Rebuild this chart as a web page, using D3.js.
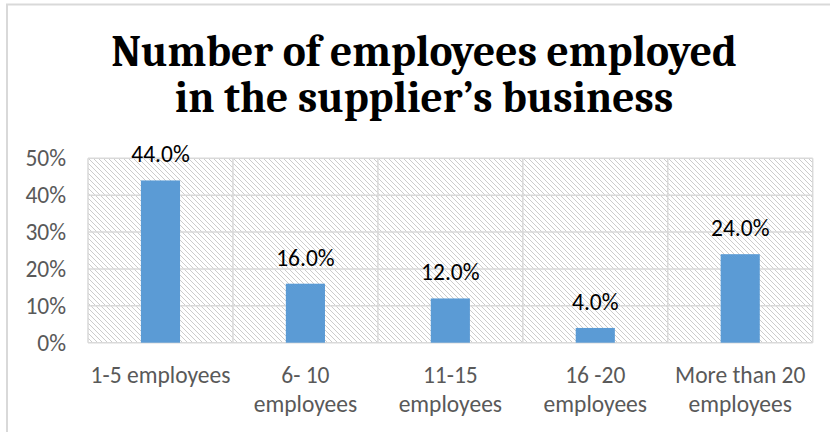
<!DOCTYPE html>
<html>
<head>
<meta charset="utf-8">
<script src="https://cdn.jsdelivr.net/npm/d3@7"></script>
<style>
  body { margin: 0; background: #fff; }
  svg { display: block; }
</style>
</head>
<body>
<svg id="chart" width="830" height="432"></svg>
<script>
// ---- data ----
const titleLines = ["Number of employees employed", "in the supplier\u2019s business"];
const categories = ["1-5 employees", "6- 10 employees", "11-15 employees", "16 -20 employees", "More than 20 employees"];
const values = [0.44, 0.16, 0.12, 0.04, 0.24];
const yTicks = [0, 0.1, 0.2, 0.3, 0.4, 0.5];

// ---- layout ----
const W = 830, H = 432;
const plot = { left: 88, right: 812.7, top: 158.3, bottom: 342.7 };
const bodyFont = "Carlito, Calibri, 'Liberation Sans', sans-serif";
const bodySize = 23.5;
const titleFont = "Caladea, Cambria, 'Liberation Serif', serif";
const gridColor = "#d9d9d9";

const svg = d3.select("#chart");

svg.append("rect").attr("width", W).attr("height", H).attr("fill", "#fff");

// chart frame (top and left edges visible)
svg.append("path")
  .attr("d", `M7,${H} V4.5 H${W}`)
  .attr("fill", "none")
  .attr("stroke", gridColor)
  .attr("stroke-width", 2);

// ---- scales ----
const x = d3.scaleBand()
  .domain(categories)
  .range([plot.left, plot.right])
  .paddingInner(0.73)
  .paddingOuter(0.365);

const y = d3.scaleLinear().domain([0, 0.5]).range([plot.bottom, plot.top]);

// ---- hatched plot background ----
const defs = svg.append("defs");
const pat = defs.append("pattern")
  .attr("id", "hatch")
  .attr("patternUnits", "userSpaceOnUse")
  .attr("width", 5).attr("height", 5);
pat.append("rect").attr("width", 5).attr("height", 5).attr("fill", "#fff");
pat.append("path")
  .attr("d", "M-1,-1 L6,6 M-1,4 L1,6 M4,-1 L6,1")
  .attr("stroke", "#cccccc")
  .attr("stroke-width", 1);

svg.append("rect")
  .attr("x", plot.left).attr("y", plot.top)
  .attr("width", plot.right - plot.left)
  .attr("height", plot.bottom - plot.top)
  .attr("fill", "url(#hatch)");

// ---- gridlines ----
const grid = svg.append("g").attr("stroke", gridColor).attr("stroke-width", 1.5);
grid.selectAll("line.h").data(yTicks).join("line")
  .attr("class", "h")
  .attr("x1", plot.left).attr("x2", plot.right)
  .attr("y1", d => y(d)).attr("y2", d => y(d));

const step = x.step();
const bounds = d3.range(categories.length + 1).map(i => plot.left + i * step);
grid.selectAll("line.v").data(bounds).join("line")
  .attr("class", "v")
  .attr("x1", d => d).attr("x2", d => d)
  .attr("y1", plot.top).attr("y2", plot.bottom);

// ---- bars ----
svg.append("g").selectAll("rect").data(values).join("rect")
  .attr("x", (d, i) => x(categories[i]))
  .attr("width", x.bandwidth())
  .attr("y", d => y(d))
  .attr("height", d => y(0) - y(d))
  .attr("fill", "#5b9bd5");

// ---- data labels ----
svg.append("g").selectAll("text").data(values).join("text")
  .attr("x", (d, i) => x(categories[i]) + x.bandwidth() / 2)
  .attr("y", d => y(d) - 18)
  .attr("text-anchor", "middle")
  .attr("font-family", bodyFont)
  .attr("font-size", bodySize)
  .attr("fill", "#000")
  .text(d => d3.format(".1%")(d));

// ---- y axis ----
const yAxis = svg.append("g")
  .attr("transform", `translate(${plot.left},0)`)
  .call(d3.axisLeft(y).tickValues(yTicks).tickFormat(d3.format(".0%")).tickSize(0).tickPadding(22));
yAxis.select(".domain").remove();
yAxis.selectAll("text")
  .attr("font-family", bodyFont)
  .attr("font-size", bodySize)
  .attr("fill", "#595959");

// ---- x axis ----
const xAxis = svg.append("g")
  .attr("transform", `translate(0,${plot.bottom})`)
  .call(d3.axisBottom(x).tickSize(0));
xAxis.select(".domain").remove();
xAxis.selectAll("text")
  .attr("font-family", bodyFont)
  .attr("font-size", bodySize)
  .attr("fill", "#595959")
  .attr("y", 40)
  .attr("dy", 0)
  .each(function(d) { wrap(d3.select(this), d, step - 1); });

function wrap(textSel, label, maxWidth) {
  const words = label.split(" ");
  textSel.text(null);
  let line = [];
  let tspan = textSel.append("tspan").attr("x", 0).attr("dy", 0);
  words.forEach(w => {
    line.push(w);
    tspan.text(line.join(" "));
    if (tspan.node().getComputedTextLength() > maxWidth && line.length > 1) {
      line.pop();
      tspan.text(line.join(" "));
      line = [w];
      tspan = textSel.append("tspan").attr("x", 0).attr("dy", 29).text(w);
    }
  });
}

// ---- title ----
svg.append("text")
  .attr("x", 424)
  .attr("y", 66)
  .attr("text-anchor", "middle")
  .attr("font-family", titleFont)
  .attr("font-weight", "bold")
  .attr("font-size", 43.5)
  .attr("fill", "#000")
  .selectAll("tspan").data(titleLines).join("tspan")
  .attr("x", 424)
  .attr("dy", (d, i) => i === 0 ? 0 : 46)
  .text(d => d);
</script>
</body>
</html>
